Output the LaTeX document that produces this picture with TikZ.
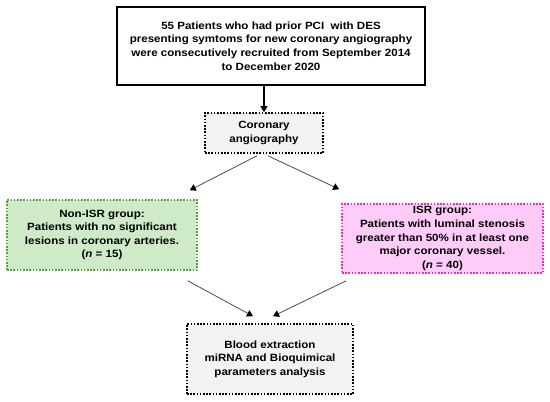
\documentclass[tikz,border=0pt]{standalone}
\usepackage{fontspec}
\setmainfont[FakeStretch=1.1]{Liberation Sans}
\usetikzlibrary{arrows.meta}
\definecolor{greenfill}{RGB}{206,234,198}
\definecolor{greenline}{RGB}{92,160,64}
\definecolor{pinkfill}{RGB}{255,204,250}
\definecolor{pinkline}{RGB}{240,40,190}
\definecolor{greyfill}{RGB}{242,242,242}

\begin{document}
\begin{tikzpicture}[x=1pt, y=-1pt,
  box/.style={align=center, inner sep=0pt, font=\fontsize{10.5}{13.6}\selectfont\bfseries},
  dotbox/.style={box, line width=1.6pt, dash pattern=on 1.6pt off 1.6pt},
  arrow/.style={-{Triangle[length=6pt, width=7pt, color=black]}, draw=black!70, line width=0.8pt},
]
\useasboundingbox (0,0) rectangle (550,402);

% Recruitment
\node[box, draw, line width=2.8pt, fill=white, minimum width=308pt, minimum height=78pt] (recruit) at (271,46)
  {55 Patients who had prior PCI~ with DES\\presenting symtoms for new coronary angiography\\were consecutively recruited from September 2014\\to December 2020};

\node[dotbox, draw=black, fill=greyfill, minimum width=118pt, minimum height=40pt] (angio) at (264,133)
  {Coronary\\angiography};

% Groups
\node[dotbox, draw=greenline, fill=greenfill, minimum width=190pt, minimum height=70pt] (nonisr) at (102,235)
  {Non-ISR group:\\Patients with no significant\\lesions in coronary arteries.\\(\textit{n} = 15)};
\node[dotbox, draw=pinkline, fill=pinkfill, minimum width=201pt, minimum height=69pt] (isr) at (442.5,238.5)
  {ISR group:\\Patients with luminal stenosis\\greater than 50\% in at least one\\major coronary vessel.\\(\textit{n} = 40)};

% Analysis
\node[dotbox, draw=black, fill=greyfill, minimum width=166pt, minimum height=70pt] (blood) at (270,359)
  {Blood extraction\\miRNA and Bioquimical\\parameters analysis};

\draw[arrow, draw=black, line width=1.2pt] (angio.north |- recruit.south) -- (angio.north);
\draw[arrow] ([xshift=-7pt, yshift=-2pt]angio.south) -- ([xshift=-8pt, yshift=9pt]nonisr.north east);
\draw[arrow] ([xshift=4pt, yshift=-2pt]angio.south) -- ([xshift=-2pt, yshift=14pt]isr.north west);
\draw[arrow] ([xshift=-10pt, yshift=-10pt]nonisr.south east) -- ([xshift=-17pt, yshift=7pt]blood.north);
\draw[arrow] ([xshift=5pt, yshift=-7pt]isr.south west) -- ([xshift=3pt, yshift=7pt]blood.north);

\end{tikzpicture}
\end{document}
